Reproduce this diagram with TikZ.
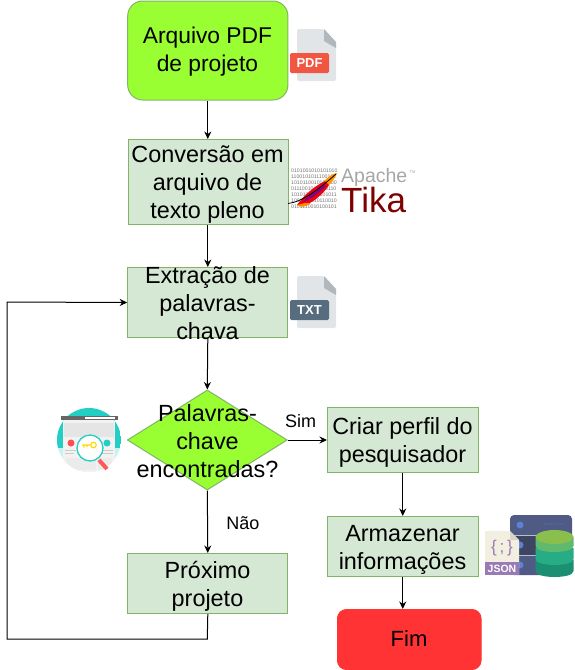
\documentclass[tikz,border=0pt]{standalone}
\usepackage{fontspec}
\setmainfont{Liberation Sans}
\usetikzlibrary{arrows.meta,shapes.geometric}
\definecolor{lime}{HTML}{99FF33}
\definecolor{pale}{HTML}{D5E8D4}
\definecolor{edgegreen}{HTML}{82B366}
\definecolor{redbox}{HTML}{FF3333}
\definecolor{docgray}{HTML}{E2E5E7}
\definecolor{foldgray}{HTML}{B0B7BD}
\definecolor{pdfred}{HTML}{F15642}
\definecolor{txtslate}{HTML}{576D7E}
\definecolor{tealc}{HTML}{23CFC4}
\definecolor{srv}{HTML}{4F5B85}
\definecolor{srvd}{HTML}{3D4560}
\definecolor{srvdot}{HTML}{5F7FD0}
\definecolor{jsonp}{HTML}{9A7AB5}
\definecolor{jsonpage}{HTML}{F2EEE0}
\definecolor{jsonfold}{HTML}{D9D5C6}
\definecolor{dbtop}{HTML}{8BBF4D}
\definecolor{dbone}{HTML}{5FB96E}
\definecolor{dbtwo}{HTML}{26AD85}
\definecolor{dbthree}{HTML}{1C8F73}
\tikzset{
  shapebox/.style={draw=edgegreen,line width=1pt,inner sep=0pt,anchor=north west},
  palebox/.style={shapebox,fill=pale},
  caption/.style={align=center,inner sep=0pt,font=\fontsize{23.4}{28}\selectfont},
  edgelabel/.style={inner sep=1pt,fill=white,font=\fontsize{18}{22}\selectfont},
  flow/.style={draw=black,line width=1pt,-{Stealth[length=7.5pt,width=7pt]}},
  tinybits/.style={align=left,inner sep=0pt,text=black!55,font=\fontsize{5.2}{6}\selectfont}
}
\newcommand{\fileicon}[5]{% x, y, label colour, label text
  \fill[docgray,rounded corners=2pt] (#1,#2) -- (#1+27,#2) -- (#1+39,#2+13) -- (#1+39,#2+52) -- (#1,#2+52) -- cycle;
  \fill[foldgray] (#1+27,#2) -- (#1+39,#2+13) -- (#1+39,#2+19) -- (#1+27,#2+12) -- cycle;
  \fill[#3,rounded corners=1.5pt] (#1-7,#2+24) rectangle (#1+32,#2+44);
  \node[inner sep=0pt,text=white,font=\bfseries\fontsize{13}{14}\selectfont] (#5) at (#1+12.5,#2+34) {#4};
}
\newcommand{\dblayer}[3]{% colour, side top, side bottom
  \fill[#1] (535.5,#2) -- (535.5,#3) .. controls (535.5,#3+8) and (573.5,#3+8) .. (573.5,#3) -- (573.5,#2) -- cycle;
}
\begin{document}
\begin{tikzpicture}[x=1pt,y=-1pt]
\useasboundingbox (0,0) rectangle (575,670);

% flow boxes
\node[shapebox,fill=lime,rounded corners=15pt,minimum width=160.2pt,minimum height=99pt] (a) at (127.2,0.5) {};
\node[palebox,minimum width=160.2pt,minimum height=85pt] (b) at (127.7,139) {};
\node[palebox,minimum width=160.2pt,minimum height=70pt] (c) at (127.2,267) {};
\node[draw=edgegreen,line width=1pt,fill=lime,diamond,inner sep=0pt,aspect=1.61,minimum width=160pt,minimum height=100pt] (d) at (207.3,440) {};
\node[palebox,minimum width=160.2pt,minimum height=60pt] (e) at (127.2,553) {};
\node[palebox,minimum width=150.5pt,minimum height=65pt] (f) at (327,407) {};
\node[palebox,minimum width=150.5pt,minimum height=60pt] (g) at (327,516) {};
\node[shapebox,draw=redbox,fill=redbox,rounded corners=9pt,minimum width=143.5pt,minimum height=60pt] (h) at (337,609) {};

% connectors
\coordinate (loopa) at (207.3,639);
\coordinate (loopb) at (7,639);
\coordinate (loopc) at (7,302);
\draw[flow] (a.south) -- (a.south |- b.north);
\draw[flow] (c.north |- b.south) -- (c.north);
\draw[flow] (c.south) -- (d.north);
\draw[flow] (d.east) -- (f.west |- d.east);
\draw[flow] (d.south) -- (e.north);
\draw[flow] (f.south) -- (g.north);
\draw[flow] (g.south) -- (g.south |- h.north);
\draw[flow] (e.south) -- (loopa) -- (loopb) -- (loopc) -- (c.west);

% captions
\node[caption,font=\fontsize{22.8}{28}\selectfont] (ta) at (207.5,52) {Arquivo PDF\\de projeto};
\node[caption] (tb) at (207.5,184.5) {Conversão em\\arquivo de\\texto pleno};
\node[caption] (tc) at (207.5,303) {Extração de\\palavras-\\chava};
\node[caption] (td) at (207.5,441) {Palavras-\\chave\\encontradas?};
\node[caption] (te) at (207.5,586) {Próximo\\projeto};
\node[caption] (tf) at (402.5,442) {Criar perfil do\\pesquisador};
\node[caption] (tg) at (402.5,550) {Armazenar\\informações};
\node[caption,font=\fontsize{22}{28}\selectfont] (th) at (409,639) {Fim};
\node[edgelabel] (sim) at (300.5,421) {Sim};
\node[edgelabel] (nao) at (243,523) {Não};

% PDF and TXT icons
\fileicon{297}{29}{pdfred}{PDF}{pdflabel}
\fileicon{297}{276}{txtslate}{TXT}{txtlabel}

% Tika logo
\node[tinybits,anchor=north west] (bits) at (291,168.5) {0101001010101010\\1100101011100101\\1010110010101100\\0111001010010110\\1010101100101011\\1001011010110010\\0101110010100101};
\fill[orange!80!yellow] (337,173) .. controls (331,174) and (325,179) .. (322,184) -- (327,187) .. controls (332,183) and (335,178) .. (337,173) -- cycle;
\fill[red!75!purple] (325,181) .. controls (315,186) and (305,194) .. (297,205) .. controls (303,206) and (310,204) .. (316,199) .. controls (322,194) and (326,190) .. (329,185) -- cycle;
\fill[purple!70!blue] (324,184) .. controls (316,189) and (309,195) .. (303,202) .. controls (310,200) and (318,194) .. (326,186) -- cycle;
\fill[orange!90!yellow] (297,205) .. controls (301,208) and (306,207) .. (311,203) -- (305,203) -- cycle;
\draw[black,line width=.8pt] (288,203.5) .. controls (302,202) and (318,190) .. (336,174);
\node[anchor=west,inner sep=0pt,text=black!35,font=\fontsize{19.5}{22}\selectfont] (apache) at (341,177) {Apache};
\node[anchor=west,inner sep=0pt,text=black!35,font=\fontsize{4}{5}\selectfont] (tm) at (409.5,172) {TM};
\node[anchor=west,inner sep=0pt,text=red!50!black,font=\fontsize{35}{36}\selectfont] (tika) at (341,200) {Tika};

% search icon
\begin{scope}
\clip (89,440) circle (32);
\fill[white] (57,408) rectangle (121,472);
\fill[tealc] (57,408) rectangle (121,448);
\fill[tealc!25] (57,448) rectangle (121,472);
\fill[white!95!black] (63,419) rectangle (115,472);
\fill[black!10] (64,423) rectangle (114,437);
\fill[black!8] (66,458) rectangle (84,470);
\fill[black!8] (83,461) rectangle (96,470);
\fill[black!8] (98,458) rectangle (112,470);
\end{scope}
\fill[black!60] (60.5,416) rectangle (117.5,419.5);
\fill[white] (85,417) rectangle (115,418.5);
\fill[red!70] (71,443) circle (3.5);
\fill[tealc] (107,443) circle (3.5);
\draw[black!20] (65,450) -- (76,450) (65,453) -- (74,453) (102,450) -- (113,450) (102,453) -- (113,453);
\draw[red!65,line width=4pt] (99,460) -- (107,469);
\draw[tealc,fill=white,line width=1.3pt] (90,448) circle (13);
\draw[yellow!80!orange,line width=1.2pt] (93.5,445) circle (2.8) (90.7,445) -- (82,445) (84,445) -- (84,447.5) (87,445) -- (87,447);

% server, database and JSON icon
\fill[srv,rounded corners=4pt] (510,515) rectangle (572,575);
\fill[srvd] (510,535) rectangle (572,555);
\draw[white!60!srv,line width=.5pt] (510,535) -- (572,535) (510,555) -- (572,555);
\fill[srvdot] (520,525) circle (3.5) (520,545) circle (3.5) (520,565) circle (3.5);
\foreach \p in {545,548,551,554,557,560,563} {\fill[srvdot] (\p,524) circle (.7);}
\dblayer{dbthree}{560}{571}
\dblayer{dbtwo}{548}{559}
\dblayer{dbone}{537}{546}
\fill[dbtop] (554.5,537) ellipse (19 and 7);
\fill[jsonpage] (485,531) -- (510,531) -- (519,540) -- (519,575) -- (485,575) -- cycle;
\fill[jsonfold] (510,531) -- (519,540) -- (510,540) -- cycle;
\fill[jsonp] (485,562) rectangle (519,575);
\node[inner sep=0pt,text=white,font=\bfseries\fontsize{10.5}{11}\selectfont] (jsonlabel) at (502,568.5) {JSON};
\node[inner sep=0pt,text=jsonp,font=\fontsize{17}{18}\selectfont] (jsonmark) at (502,548) {\{\,;\,\}};
\end{tikzpicture}
\end{document}
